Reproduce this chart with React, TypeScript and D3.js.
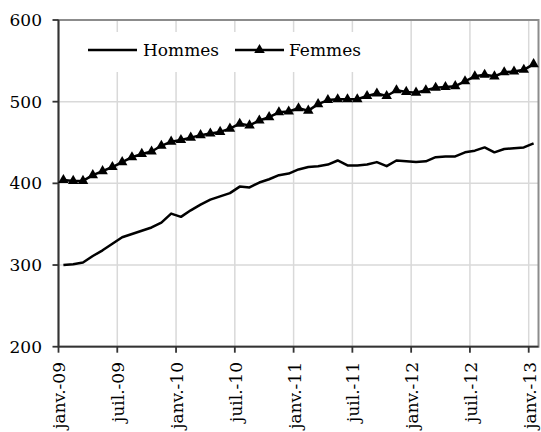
import { useEffect, useRef } from 'react';
import * as d3 from 'd3';

const months = [
  'janv.-09', 'févr.-09', 'mars-09', 'avr.-09', 'mai-09', 'juin-09',
  'juil.-09', 'août-09', 'sept.-09', 'oct.-09', 'nov.-09', 'déc.-09',
  'janv.-10', 'févr.-10', 'mars-10', 'avr.-10', 'mai-10', 'juin-10',
  'juil.-10', 'août-10', 'sept.-10', 'oct.-10', 'nov.-10', 'déc.-10',
  'janv.-11', 'févr.-11', 'mars-11', 'avr.-11', 'mai-11', 'juin-11',
  'juil.-11', 'août-11', 'sept.-11', 'oct.-11', 'nov.-11', 'déc.-11',
  'janv.-12', 'févr.-12', 'mars-12', 'avr.-12', 'mai-12', 'juin-12',
  'juil.-12', 'août-12', 'sept.-12', 'oct.-12', 'nov.-12', 'déc.-12',
  'janv.-13',
];

const tickLabels = [
  'janv.-09', 'juil.-09', 'janv.-10', 'juil.-10', 'janv.-11',
  'juil.-11', 'janv.-12', 'juil.-12', 'janv.-13',
];

const hommes = [
  300, 301, 303, 311, 318, 326, 334, 338, 342, 346, 352, 363,
  359, 367, 374, 380, 384, 388, 396, 395, 401, 405, 410, 412,
  417, 420, 421, 423, 428, 422, 422, 423, 426, 421, 428, 427,
  426, 427, 432, 433, 433, 438, 440, 444, 438, 442, 443, 444,
  449,
];

const femmes = [
  404, 403, 403, 410, 415, 420, 426, 432, 436, 439, 446, 451,
  453, 456, 459, 461, 463, 467, 473, 471, 477, 481, 487, 488,
  492, 489, 497, 502, 503, 503, 503, 507, 510, 507, 514, 512,
  511, 514, 517, 518, 519, 525, 531, 533, 531, 536, 537, 539,
  546,
];

const yTicks = [200, 300, 400, 500, 600];

const W = 541;
const H = 432;
const FONT = "'DejaVu Serif', serif";
const FS = '17px';

const App = () => {
  const ref = useRef<SVGSVGElement | null>(null);

  useEffect(() => {
    if (!ref.current) return;
    const svg = d3.select(ref.current);
    svg.selectAll('*').remove();

    const left = 58.5;
    const right = 538.5;
    const top = 20;
    const bottom = 346.7;

    const x = d3.scaleBand<string>().domain(months).range([left, right]).padding(0);
    const y = d3.scaleLinear().domain([200, 600]).range([bottom, top]);
    const cx = (m: string) => (x(m) ?? 0) + x.bandwidth() / 2;

    // gridlines
    const grid = svg.append('g').attr('stroke', '#d9d9d9').attr('stroke-width', 1.5);
    yTicks.slice(1, -1).forEach((v) => {
      grid.append('line').attr('x1', left).attr('x2', right).attr('y1', y(v)).attr('y2', y(v));
    });
    tickLabels.slice(1).forEach((m) => {
      const px = x(m) ?? 0;
      grid.append('line').attr('x1', px).attr('x2', px).attr('y1', top).attr('y2', bottom);
    });

    // plot frame
    svg
      .append('rect')
      .attr('x', left)
      .attr('y', top)
      .attr('width', right - left)
      .attr('height', bottom - top)
      .attr('fill', 'none')
      .attr('stroke', '#8c8c8c')
      .attr('stroke-width', 2);

    // legend box hides gridlines behind it
    svg.append('rect').attr('x', 80).attr('y', 32).attr('width', 296).attr('height', 40).attr('fill', '#fff');

    // axes
    const axes = svg.append('g').attr('stroke', '#333').attr('stroke-width', 1.8);
    axes.append('line').attr('x1', left).attr('x2', left).attr('y1', top).attr('y2', bottom);
    axes.append('line').attr('x1', left).attr('x2', right).attr('y1', bottom).attr('y2', bottom);
    yTicks.forEach((v) => {
      axes.append('line').attr('x1', left - 6).attr('x2', left).attr('y1', y(v)).attr('y2', y(v));
    });
    tickLabels.forEach((m) => {
      const px = x(m) ?? 0;
      axes.append('line').attr('x1', px).attr('x2', px).attr('y1', bottom).attr('y2', bottom + 6);
    });

    svg
      .append('g')
      .selectAll('text')
      .data(yTicks)
      .enter()
      .append('text')
      .attr('x', 42)
      .attr('y', (d) => y(d))
      .attr('dy', '0.35em')
      .attr('text-anchor', 'end')
      .style('font-family', FONT)
      .style('font-size', FS)
      .text((d) => d);

    svg
      .append('g')
      .selectAll('text')
      .data(tickLabels)
      .enter()
      .append('text')
      .attr('transform', (d) => `translate(${(x(d) ?? 0) + 1},362) rotate(-90)`)
      .attr('dy', '0.35em')
      .attr('text-anchor', 'end')
      .style('font-family', FONT)
      .style('font-size', FS)
      .text((d) => d);

    // series
    const line = d3
      .line<number>()
      .x((_, i) => cx(months[i]))
      .y((d) => y(d));

    svg
      .append('path')
      .datum(hommes)
      .attr('d', line)
      .attr('fill', 'none')
      .attr('stroke', '#000')
      .attr('stroke-width', 2.5)
      .attr('stroke-linejoin', 'round');

    svg
      .append('path')
      .datum(femmes)
      .attr('d', line)
      .attr('fill', 'none')
      .attr('stroke', '#000')
      .attr('stroke-width', 2.5)
      .attr('stroke-linejoin', 'round');

    const tri = d3.symbol().type(d3.symbolTriangle).size(48);
    svg
      .append('g')
      .selectAll('path')
      .data(femmes)
      .enter()
      .append('path')
      .attr('d', tri)
      .attr('transform', (d, i) => `translate(${cx(months[i])},${y(d)})`)
      .attr('fill', '#000');

    // legend
    const lg = svg.append('g').style('font-family', FONT).style('font-size', FS);
    lg.append('line').attr('x1', 88).attr('x2', 137).attr('y1', 50).attr('y2', 50).attr('stroke', '#000').attr('stroke-width', 2.5);
    lg.append('text').attr('x', 143).attr('y', 50).attr('dy', '0.35em').text('Hommes');
    lg.append('line').attr('x1', 235).attr('x2', 284).attr('y1', 50).attr('y2', 50).attr('stroke', '#000').attr('stroke-width', 2.5);
    lg.append('path').attr('d', tri).attr('transform', 'translate(259.5,50)').attr('fill', '#000');
    lg.append('text').attr('x', 289).attr('y', 50).attr('dy', '0.35em').text('Femmes');
  }, []);

  return (
    <svg
      ref={ref}
      width={W}
      height={H}
      style={{ position: 'absolute', left: 0, top: 0, background: '#fff' }}
    />
  );
};

export default App;
